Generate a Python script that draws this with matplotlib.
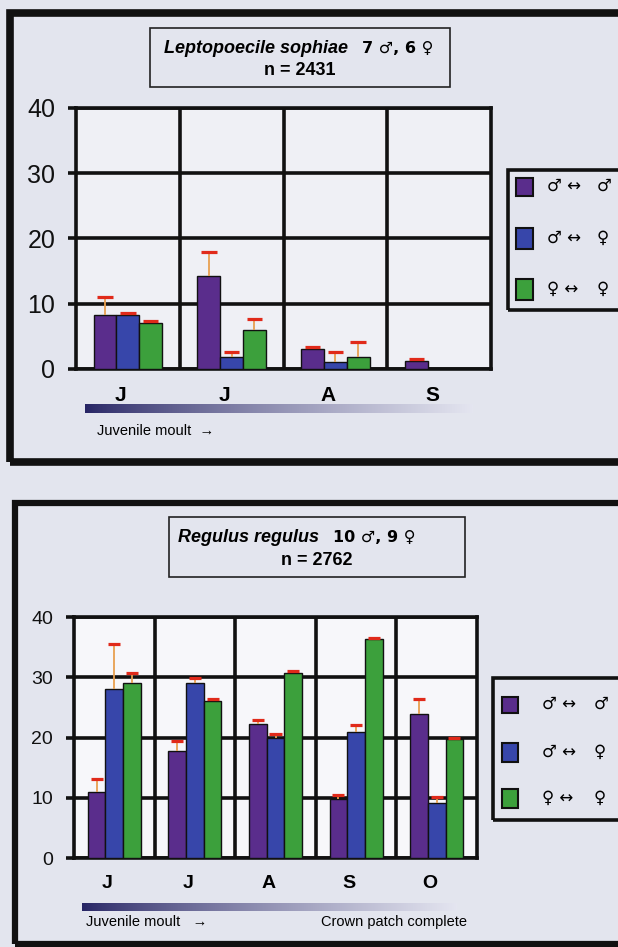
import numpy as np
import matplotlib
matplotlib.use('Agg')
import matplotlib.pyplot as plt
from matplotlib.patches import Rectangle
from matplotlib.transforms import ScaledTranslation

# ---- data: Leptopoecile sophiae ----
months_top = ['J', 'J', 'A', 'S']
mm_top = [8.2, 14.2, 3.1, 1.2]          # male <-> male
mm_top_err = [11.0, 17.9, 3.3, 1.6]
mf_top = [8.3, 1.9, 1.1, np.nan]        # male <-> female
mf_top_err = [8.6, 2.6, 2.6, np.nan]
ff_top = [7.1, 6.0, 1.9, np.nan]        # female <-> female
ff_top_err = [7.3, 7.6, 4.1, np.nan]

# ---- data: Regulus regulus ----
months_bot = ['J', 'J', 'A', 'S', 'O']
mm_bot = [11.0, 17.8, 22.2, 9.8, 23.9]
mm_bot_err = [13.1, 19.5, 22.9, 10.5, 26.4]
mf_bot = [28.0, 29.0, 19.9, 20.9, 9.1]
mf_bot_err = [35.5, 29.9, 20.5, 22.0, 10.2]
ff_bot = [29.0, 26.0, 30.7, 36.4, 19.8]
ff_bot_err = [30.7, 26.4, 31.0, 36.5, 19.9]

yticks = [0, 10, 20, 30, 40]
colors = ['#5a2d8c', '#3746aa', '#3ca03c']
legend_labels = [('\u2642 \u2194', '\u2642'), ('\u2642 \u2194', '\u2640'), ('\u2640 \u2194', '\u2640')]

W, H = 618, 947
page = '#e3e5ee'
plt.rcParams['font.family'] = ['Liberation Sans', 'DejaVu Sans']
narrow = ['Liberation Sans Narrow', 'Liberation Sans', 'DejaVu Sans']
symf = ['DejaVu Sans']

fig = plt.figure(figsize=(W / 100, H / 100), dpi=100, facecolor=page)


def fx(px):
    return px / W


def fy(py):
    return 1 - py / H


def panel(box, months, series, errs, tick_fs, month_fs, plot_bg):
    l, t, r, b = box
    ax = fig.add_axes([fx(l), fy(b), fx(r - l), (b - t) / H])
    ax.set_facecolor(plot_bg)
    n = len(months)
    x = np.arange(n)
    w = 0.22
    for k, (vals, tops) in enumerate(zip(series, errs)):
        xs = x + (k - 1) * w
        vals = np.array(vals, dtype=float)
        tops = np.array(tops, dtype=float)
        ax.bar(xs, vals, width=w, color=colors[k], edgecolor='#111111',
               linewidth=1.0, zorder=3)
        ax.vlines(xs, vals, tops, color='#e8a050', lw=1.3, zorder=4)
        ax.hlines(tops, xs - 0.34 * w, xs + 0.34 * w, color='#e02a1a', lw=2.3, zorder=5)
    ax.set_xlim(-0.5, n - 0.5)
    ax.set_ylim(0, 40)
    ax.set_yticks(yticks)
    ax.set_xticks(x)
    ax.set_xticks(x[:-1] + 0.5, minor=True)
    ax.set_xticklabels(months, fontsize=month_fs, fontweight='bold')
    ax.set_yticklabels([str(v) for v in yticks], fontsize=tick_fs, family=narrow)
    ax.set_axisbelow(True)
    ax.yaxis.grid(True, color='#111111', lw=2.6)
    ax.xaxis.grid(True, which='minor', color='#111111', lw=2.6)
    for s in ax.spines.values():
        s.set_linewidth(2.6)
        s.set_color('#111111')
    ax.tick_params(axis='y', length=6, width=2.6, pad=9, colors='#111111')
    ax.tick_params(axis='x', which='both', length=0, pad=12)
    off = ScaledTranslation(-7 / 100, 0, fig.dpi_scale_trans)
    for lab in ax.get_xticklabels():
        lab.set_transform(lab.get_transform() + off)
    return ax


def gradient(l, r, t, b):
    gax = fig.add_axes([fx(l), fy(b), fx(r - l), (b - t) / H])
    ramp = np.linspace(0, 1, 300) ** 0.8
    c0 = np.array([38, 36, 100]) / 255
    c1 = np.array([228, 229, 240]) / 255
    img = c0[None, :] * (1 - ramp[:, None]) + c1[None, :] * ramp[:, None]
    gax.imshow(img[None, :, :], aspect='auto')
    gax.axis('off')


def legend(l, t, b, sq_x, sq_ys, txt_x, txt2_x, fs):
    fig.add_artist(Rectangle((fx(l), fy(b)), 1.2, (b - t) / H, transform=fig.transFigure,
                             fill=False, lw=2.6, edgecolor='#111111', clip_on=False))
    for k, (y0, y1) in enumerate(sq_ys):
        fig.add_artist(Rectangle((fx(sq_x[0]), fy(y1)), fx(sq_x[1] - sq_x[0]), (y1 - y0) / H,
                                 transform=fig.transFigure, facecolor=colors[k],
                                 edgecolor='#111111', lw=1.5))
        yc = fy((y0 + y1) / 2 - 1)
        fig.text(fx(txt_x), yc, legend_labels[k][0], fontsize=fs, va='center', ha='left',
                 family=symf)
        fig.text(fx(txt2_x), yc, legend_labels[k][1], fontsize=fs, va='center', ha='left',
                 family=symf, fontweight='bold')


def title_box(l, t, r, b, name, counts, n_text, split_x, fs):
    fig.add_artist(Rectangle((fx(l), fy(b)), fx(r - l), (b - t) / H, transform=fig.transFigure,
                             fill=False, lw=1.2, edgecolor='#222222'))
    y1 = fy(t + (b - t) * 0.34)
    y2 = fy(t + (b - t) * 0.72)
    fig.text(fx(split_x), y1, name, fontsize=fs, fontweight='bold', style='italic',
             ha='right', va='center')
    fig.text(fx(split_x + 14), y1, counts, fontsize=fs - 1.5, fontweight='bold', ha='left',
             va='center', family=symf)
    fig.text(fx((l + r) / 2), y2, n_text, fontsize=fs, fontweight='bold', ha='center', va='center')


# outer frames
fig.add_artist(Rectangle((fx(10), fy(462)), 1.2, (462 - 13) / H, transform=fig.transFigure,
                         fill=False, lw=5.5, edgecolor='#111111', clip_on=False))
fig.add_artist(Rectangle((fx(15), fy(944)), 1.2, (944 - 503) / H, transform=fig.transFigure,
                         fill=False, lw=4.5, edgecolor='#111111', clip_on=False))

# top panel
panel((76, 108, 491, 369), months_top, [mm_top, mf_top, ff_top],
      [mm_top_err, mf_top_err, ff_top_err], 18, 15, '#eff0f5')
title_box(150, 28, 450, 87, 'Leptopoecile sophiae', '7 \u2642, 6 \u2640', 'n = 2431', 348, 13)
legend(508, 170, 310, (516, 533), [(178, 196), (228, 249), (279, 300)], 547, 597, 12)
gradient(85, 473, 404, 413)
fig.text(fx(97), fy(431), 'Juvenile moult  \u2192', fontsize=10.5, va='center', ha='left')

# bottom panel
panel((74, 617, 477, 858), months_bot, [mm_bot, mf_bot, ff_bot],
      [mm_bot_err, mf_bot_err, ff_bot_err], 14, 14, '#f7f7fa')
title_box(169, 517, 465, 577, 'Regulus regulus', '10 \u2642, 9 \u2640', 'n = 2762', 319, 13)
legend(493, 678, 820, (502, 518), [(697, 713), (743, 762), (789, 808)], 542, 594, 12)
gradient(82, 457, 903, 911)
fig.text(fx(86), fy(922), 'Juvenile moult   \u2192', fontsize=10.5, va='center', ha='left')
fig.text(fx(467), fy(922), 'Crown patch complete', fontsize=10.5, va='center', ha='right')

fig.savefig('out.png', dpi=100, facecolor=page)
